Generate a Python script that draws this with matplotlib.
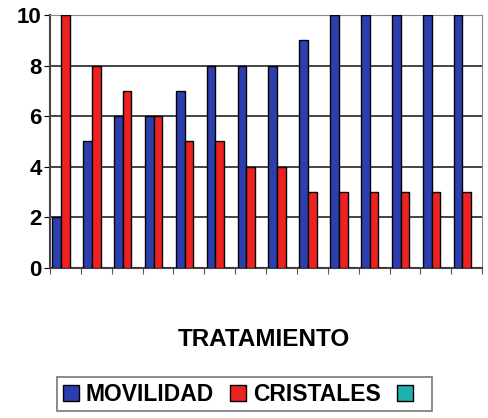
import matplotlib.pyplot as plt
import numpy as np

plt.rcParams['font.family'] = ['Liberation Sans', 'DejaVu Sans']

tratamientos = list(range(1, 15))
movilidad = [2, 5, 6, 6, 7, 8, 8, 8, 9, 10, 10, 10, 10, 10]
cristales = [10, 8, 7, 6, 5, 5, 4, 4, 3, 3, 3, 3, 3, 3]
tercera = [0] * 14

fig = plt.figure(figsize=(4.89, 4.18), dpi=100)
ax = fig.add_axes([0.102, 0.359, 0.884, 0.605])

x = np.arange(len(tratamientos))
w = 0.28
ax.bar(x + 0.22, movilidad, w, color='#2d3fae', edgecolor='black', linewidth=1.0, label='MOVILIDAD', zorder=3)
ax.bar(x + 0.50, cristales, w, color='#ee2222', edgecolor='black', linewidth=1.0, label='CRISTALES', zorder=3)
ax.bar(x + 0.78, tercera, w, color='#1fb0b0', edgecolor='black', linewidth=1.0, label=' ', zorder=3)

ax.set_xlim(0, 14)
ax.set_ylim(0, 10)
ax.set_yticks([0, 2, 4, 6, 8, 10])
ax.set_xticks(np.arange(0, 15))
ax.set_xticklabels([])
ax.tick_params(axis='x', length=4, color='#555555')
ax.tick_params(axis='y', length=4, labelsize=16, pad=2)
for lab in ax.get_yticklabels():
    lab.set_fontweight('heavy')
ax.yaxis.grid(True, color='#444444', linewidth=1.4, zorder=0)
ax.spines['left'].set_color('#444444')
ax.spines['left'].set_linewidth(1.5)
ax.spines['bottom'].set_color('#444444')
ax.spines['bottom'].set_linewidth(1.5)
ax.spines['top'].set_color('#888888')
ax.spines['right'].set_color('#888888')

fig.text(0.54, 0.187, 'TRATAMIENTO', ha='center', va='center', fontsize=17.5, fontweight='heavy')

leg = fig.legend(loc='center', bbox_to_anchor=(0.50, 0.057), ncol=3, frameon=True,
                 prop={'size': 16.5, 'weight': 'heavy'}, handlelength=0.7, handleheight=0.7,
                 handletextpad=0.3, columnspacing=0.7, borderpad=0.25, fancybox=False)
leg.get_frame().set_edgecolor('#555555')
leg.get_frame().set_linewidth(1.2)

fig.savefig('out.png', dpi=100)
